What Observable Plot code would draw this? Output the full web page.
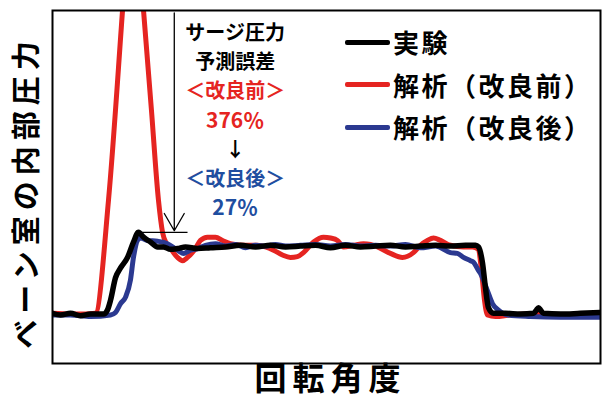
<!DOCTYPE html>
<html>
<head>
<meta charset="utf-8">
<script src="https://cdn.jsdelivr.net/npm/d3@7"></script>
<script src="https://cdn.jsdelivr.net/npm/@observablehq/plot@0.6"></script>
<style>
  body { margin: 0; background: #fff; font-family: "Noto Sans CJK JP", sans-serif; }
  #wrap { position: relative; width: 603px; height: 406px; }
  .legend { position: absolute; left: 345px; top: 21px; }
  .row { display: flex; align-items: center; height: 42.5px; font-size: 26px; font-weight: bold; color: #000; line-height: 1; letter-spacing: 2.5px; }
  .sw { width: 45px; height: 5px; margin-right: 3px; border-radius: 2px; }
</style>
</head>
<body>
<div id="wrap"></div>
<script>
// Rotation angle (deg) and vane-chamber pressure (relative: baseline 0, measured surge peak 1)
const expAngle = [0,5.3,11.8,18.4,25.0,33.5,36.1,38.1,41.4,44.7,49.3,53.2,56.5,59.8,64.4,69.0,72.9,77.5,82.1,87.4,95.3,103.8,113.6,123.5,133.4,143.2,153.1,162.9,172.8,182.6,192.5,202.3,212.2,222.0,231.9,241.7,251.6,261.4,271.3,277.9,279.8,282.5,284.4,286.4,289.7,297.6,307.4,316.0,317.9,319.3,320.6,322.5,333.7,346.8,360];
const expPressure = [0,-0.02,0,-0.03,-0.01,-0.01,0.04,0.16,0.44,0.56,0.69,0.88,1.00,0.94,0.88,0.82,0.82,0.79,0.80,0.82,0.80,0.81,0.82,0.84,0.82,0.84,0.82,0.83,0.84,0.81,0.84,0.82,0.83,0.84,0.82,0.83,0.84,0.83,0.84,0.84,0.82,0.62,0.32,0.07,0,0,-0.01,0,0.04,0.07,0.04,0,-0.01,0,0.01];

const beforeAngle = [0,11.8,21.7,28.2,36.8,46.0,48.6,51.2,53.2,55.2,57.8,59.8,65.0,69.6,72.3,74.9,77.5,82.1,85.4,88.7,93.9,97.2,101.8,107.1,111.7,116.9,126.8,134.7,139.9,145.2,151.1,156.3,160.9,164.9,171.5,178.0,182.6,187.2,191.2,197.7,204.3,208.9,213.5,222.0,229.9,237.1,241.7,246.3,250.3,254.9,261.4,270.0,275.9,279.8,281.8,283.8,285.7,291.0,300.9,314.0,333.7,360];
const beforePressure = [0,-0.01,-0.01,0,1.40,3.74,4.42,4.73,4.76,4.67,4.23,3.74,2.51,1.40,1.00,0.86,0.80,0.69,0.65,0.69,0.80,0.90,0.94,0.94,0.90,0.86,0.84,0.84,0.82,0.78,0.72,0.69,0.70,0.75,0.88,0.94,0.93,0.90,0.82,0.84,0.86,0.85,0.82,0.74,0.69,0.75,0.84,0.90,0.93,0.90,0.84,0.82,0.82,0.79,0.53,0.16,-0.02,-0.04,-0.02,-0.01,-0.02,-0.01];

const afterAngle = [0,11.8,25.0,38.1,41.4,44.7,48.0,51.2,53.2,55.8,57.8,62.4,69.0,75.5,82.1,86.1,90.7,95.3,100.5,107.1,113.6,120.2,126.8,133.4,139.9,146.5,153.1,162.9,172.8,182.6,192.5,202.3,212.2,222.0,231.9,241.7,251.6,261.4,266.0,270.0,274.6,276.6,279.8,281.2,285.7,289.0,293.0,298.9,314.0,333.7,360];
const afterPressure = [-0.02,-0.02,-0.04,-0.02,0.01,0.12,0.20,0.41,0.69,0.90,0.93,0.90,0.89,0.86,0.78,0.74,0.78,0.80,0.84,0.86,0.83,0.85,0.81,0.84,0.83,0.85,0.83,0.84,0.85,0.83,0.85,0.83,0.84,0.83,0.85,0.81,0.83,0.75,0.74,0.69,0.65,0.63,0.53,0.49,0.28,0.12,0.04,-0.02,-0.04,-0.05,-0.05];

const seriesNames = ["実験", "解析（改良前）", "解析（改良後）"];
const seriesColors = ["#000000", "#e52421", "#2b3990"];

const yLabel = "ベーン室の内部圧力";
const xLabel = "回転角度";

// Surge-pressure prediction error note
const noteLines = ["サージ圧力", "予測誤差", "＜改良前＞", "376％", "↓", "＜改良後＞", "27％"];
const noteColors = ["#000", "#000", "#e52421", "#e52421", "#000", "#1f4ea0", "#1f4ea0"];
const noteSizes = [20, 20, 20, 21, 20, 20, 21];
const noteAngle = 120;     // x position of the note block
const arrowAngle = 80;     // angle where the pointer arrow drops
const peakSpan = [54.5, 88.7];

const toRows = (a, p) => a.map((x, i) => ({angle: x, pressure: p[i]}));
const exp = toRows(expAngle, expPressure);
const before = toRows(beforeAngle, beforePressure);
const after = toRows(afterAngle, afterPressure);
const peak = d3.max(expPressure);

const yTop = 3.74, yBottom = -0.62;

const font = "'Noto Sans CJK JP', sans-serif";

const plot = Plot.plot({
  width: 603,
  height: 406,
  marginLeft: 52,
  marginRight: 3,
  marginTop: 10,
  marginBottom: 43,
  style: {fontFamily: font, background: "#fff"},
  x: {domain: [0, 360], axis: null},
  y: {domain: [yBottom, yTop], axis: null},
  marks: [
    Plot.line(before, {x: "angle", y: "pressure", stroke: seriesColors[1], strokeWidth: 5, curve: "monotone-x", clip: true}),
    Plot.line(after, {x: "angle", y: "pressure", stroke: seriesColors[2], strokeWidth: 5, curve: "monotone-x", clip: true}),
    Plot.line(exp, {x: "angle", y: "pressure", stroke: seriesColors[0], strokeWidth: 5.5, curve: "monotone-x", clip: true}),
    Plot.link([peak], {x1: peakSpan[0], x2: peakSpan[1], y1: d => d, y2: d => d, stroke: "#000", strokeWidth: 1.3}),
    Plot.arrow([peak], {x1: arrowAngle, x2: arrowAngle, y1: yTop - 0.03, y2: d => d + 0.02, stroke: "#000", strokeWidth: 1.3, headLength: 23, headAngle: 60}),
    ...noteLines.map((t, i) => Plot.text([t], {
      x: () => noteAngle, frameAnchor: "top", dy: 23 + i * 29.2, textAnchor: "middle", lineAnchor: "middle",
      text: d => d, fill: noteColors[i], fontSize: noteSizes[i], fontWeight: "bold", fontFamily: font
    })),
    Plot.text([yLabel], {frameAnchor: "left", dx: -25, dy: 5, rotate: -90, textAnchor: "middle", text: d => d, fontSize: 29, fontWeight: "bold", fill: "#000", fontFamily: font}),
    Plot.text([xLabel], {frameAnchor: "bottom", dy: 26, dx: 4, textAnchor: "middle", text: d => d, fontSize: 32, fontWeight: "bold", fill: "#000", fontFamily: font}),
    Plot.frame({stroke: "#000", strokeWidth: 2})
  ]
});

// widen the axis titles' character spacing
plot.querySelectorAll("text").forEach(t => {
  if (t.textContent === yLabel) t.style.letterSpacing = "6px";
  if (t.textContent === xLabel) t.style.letterSpacing = "6px";
});

const wrap = document.getElementById("wrap");
wrap.appendChild(plot);

const legend = document.createElement("div");
legend.className = "legend";
seriesNames.forEach((name, i) => {
  const row = document.createElement("div");
  row.className = "row";
  const sw = document.createElement("span");
  sw.className = "sw";
  sw.style.background = seriesColors[i];
  const label = document.createElement("span");
  label.textContent = name;
  row.appendChild(sw);
  row.appendChild(label);
  legend.appendChild(row);
});
wrap.appendChild(legend);
</script>
</body>
</html>
